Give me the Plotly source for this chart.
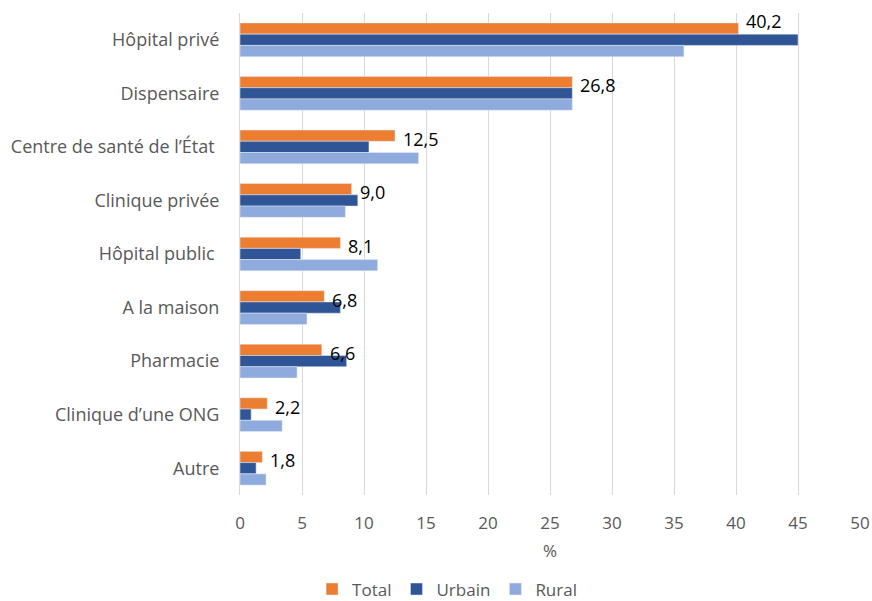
import plotly.graph_objects as go

categories = ["Hôpital privé", "Dispensaire", "Centre de santé de l’État ", "Clinique privée",
              "Hôpital public ", "A la maison", "Pharmacie", "Clinique d’une ONG", "Autre"]
total = [40.2, 26.8, 12.5, 9.0, 8.1, 6.8, 6.6, 2.2, 1.8]
urbain = [45.0, 26.8, 10.4, 9.5, 4.9, 8.1, 8.6, 0.9, 1.3]
rural = [35.8, 26.8, 14.4, 8.5, 11.1, 5.4, 4.6, 3.4, 2.1]
x_ticks = [0, 5, 10, 15, 20, 25, 30, 35, 40, 45, 50]

FONT = "Open Sans"
GREY = "#595959"
fig = go.Figure()
fig.add_trace(go.Bar(
    y=categories, x=total, name="Total", orientation="h",
    marker=dict(color="#ED7D31"),
))
fig.add_trace(go.Bar(
    y=categories, x=urbain, name="Urbain", orientation="h",
    marker=dict(color="#2F5597"),
))
fig.add_trace(go.Bar(
    y=categories, x=rural, name="Rural", orientation="h",
    marker=dict(color="#8FAADC"),
))

# data labels for the Total series
for i, (cat, v) in enumerate(zip(categories, total)):
    fig.add_annotation(
        x=v, y=cat, xref="x", yref="y",
        text=f"{v:.1f}".replace(".", ","),
        showarrow=False, xanchor="left", yanchor="middle",
        xshift=6, yshift=19 if i == 0 else 8,
        font=dict(family=FONT, size=18, color="#000000"),
    )

fig.update_layout(
    width=872, height=601,
    barmode="group", bargap=0.37, bargroupgap=0,
    plot_bgcolor="white", paper_bgcolor="white",
    margin=dict(l=240, r=12, t=13, b=106, autoexpand=False),
    font=dict(family=FONT, size=17, color=GREY),
    legend=dict(orientation="h", x=0.334, xanchor="center", y=-0.196, yanchor="middle",
                font=dict(family=FONT, size=17, color=GREY),
                traceorder="normal", itemwidth=30),
    xaxis=dict(range=[0, 50], tickvals=x_ticks, ticktext=[str(t) for t in x_ticks],
               showgrid=True, gridcolor="#D9D9D9", gridwidth=1, zeroline=False,
               showline=False, ticks="", ticklabelstandoff=16, automargin=False,
               tickfont=dict(family=FONT, size=17, color=GREY),
               title=dict(text="%", font=dict(family=FONT, size=17, color=GREY), standoff=12)),
    yaxis=dict(autorange="reversed", showgrid=False, showline=True, linecolor="#D9D9D9",
               linewidth=1, ticks="", ticklabelstandoff=16, automargin=False,
               tickfont=dict(family=FONT, size=18, color=GREY)),
)

fig.write_html("out.html", config={"displayModeBar": False},
               post_script="document.body.style.margin='0';")
